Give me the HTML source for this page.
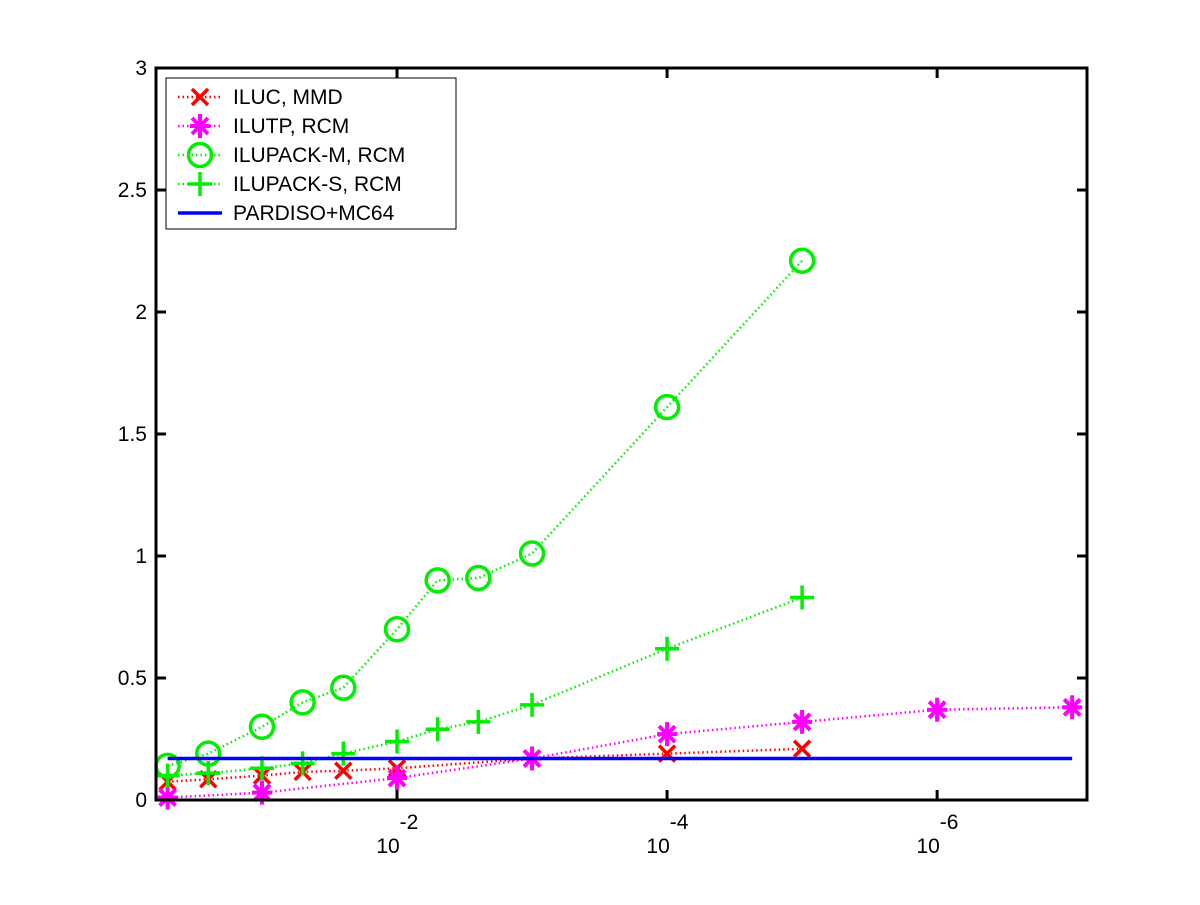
<!DOCTYPE html>
<html><head><meta charset="utf-8"><style>
html,body{margin:0;padding:0;background:#fff}
svg text{font-family:"Liberation Sans",sans-serif;font-size:21px;fill:#000}
</style></head><body>
<svg id="chart" width="1200" height="900" xmlns="http://www.w3.org/2000/svg">
<rect x="0" y="0" width="1200" height="900" fill="#fff"/>
<g id="plot"></g>
</svg>
<script>
const xValues = [0.5,0.25,0.1,0.05,0.025,0.01,0.005,0.0025,0.001,1e-4,1e-5,1e-6,1e-7];
const ilucX = [0.5,0.25,0.1,0.05,0.025,0.01,0.001,1e-4,1e-5];
const ilucY = [0.075,0.085,0.10,0.115,0.12,0.13,0.17,0.19,0.21];
const ilutpX = [0.5,0.1,0.01,0.001,1e-4,1e-5,1e-6,1e-7];
const ilutpY = [0.01,0.03,0.09,0.17,0.27,0.32,0.37,0.38];
const ilupackMX = [0.5,0.25,0.1,0.05,0.025,0.01,0.005,0.0025,0.001,1e-4,1e-5];
const ilupackMY = [0.14,0.19,0.30,0.40,0.46,0.70,0.90,0.91,1.01,1.61,2.21];
const ilupackSX = [0.5,0.25,0.1,0.05,0.025,0.01,0.005,0.0025,0.001,1e-4,1e-5];
const ilupackSY = [0.10,0.11,0.13,0.15,0.19,0.24,0.29,0.32,0.39,0.62,0.83];
const pardisoX = [0.5,1e-7];
const pardisoY = [0.17,0.17];
const yTicks = [0,0.5,1,1.5,2,2.5,3];
const yTickLabels = ["0","0.5","1","1.5","2","2.5","3"];
const xTicks = [1e-2,1e-4,1e-6];
const xTickExps = ["-2","-4","-6"];

const L=156,R=1087,T=68,B=800;
const eMin=-0.215,eMax=-7.11;
function sx(v){const e=Math.log10(v);return L+(e-eMin)/(eMax-eMin)*(R-L);}
function sy(v){return B-(v/3)*(B-T);}
const NS="http://www.w3.org/2000/svg";
const g=document.getElementById('plot');
function mk(tag,attrs,parent){const el=document.createElementNS(NS,tag);for(const k in attrs)el.setAttribute(k,attrs[k]);(parent||g).appendChild(el);return el;}

function marker(type,x,y,color,parent){
  const grp=mk('g',{},parent);
  
  
  const s=10,w=3.5;
  if(type==='x'){mk('path',{d:`M${x-8} ${y-8}L${x+8} ${y+8}M${x-8} ${y+8}L${x+8} ${y-8}`,stroke:color,'stroke-width':w,fill:'none'},grp);}
  else if(type==='star'){mk('path',{d:`M${x-s} ${y}L${x+s} ${y}M${x} ${y-s-2}L${x} ${y+s+2}M${x-8} ${y-8}L${x+8} ${y+8}M${x-8} ${y+8}L${x+8} ${y-8}`,stroke:color,'stroke-width':w+0.5,fill:'none'},grp);}
  else if(type==='circle'){mk('circle',{cx:x,cy:y,r:11.5,stroke:color,'stroke-width':w,fill:'none'},grp);}
  else if(type==='plus'){mk('path',{d:`M${x-12} ${y}L${x+12} ${y}M${x} ${y-12}L${x} ${y+12}`,stroke:color,'stroke-width':w,fill:'none'},grp);}
}
function series(name,xs,ys,color,type,dotted){
  const grp=mk('g',{});
  
  
  const pts=xs.map((v,i)=>[sx(v),sy(ys[i])]);
  const ln=mk('polyline',{points:pts.map(p=>p.join(',')).join(' '),fill:'none',stroke:color,'stroke-width':dotted?2.5:3.5,'stroke-dasharray':dotted?'1.5,3':'none'},grp);
  
  
  if(type) pts.forEach(p=>marker(type,p[0],p[1],color,grp));
}
series('iluc-mmd-series',ilucX,ilucY,'#ff0000','x',true);
series('ilutp-rcm-series',ilutpX,ilutpY,'#ff00ff','star',true);
series('ilupack-m-series',ilupackMX,ilupackMY,'#00ee00','circle',true);
series('ilupack-s-series',ilupackSX,ilupackSY,'#00ee00','plus',true);
series('pardiso-series',pardisoX,pardisoY,'#0000ff',null,false);

const box=mk('rect',{x:L,y:T,width:R-L,height:B-T,fill:'none',stroke:'#000','stroke-width':3});


yTicks.forEach((v,i)=>{
  const y=sy(v);
  const t=mk('path',{d:`M${L} ${y}L${L+10} ${y}M${R} ${y}L${R-10} ${y}`,stroke:'#000','stroke-width':3});
  
  
  const tx=mk('text',{x:147,y:y+7,'text-anchor':'end'});
  tx.textContent=yTickLabels[i];
  
  
});
xTicks.forEach((v,i)=>{
  const x=sx(v);
  const t=mk('path',{d:`M${x} ${B}L${x} ${B-10}M${x} ${T}L${x} ${T+10}`,stroke:'#000','stroke-width':3});
  
  
  const tx=mk('text',{x:x-9,y:853,'text-anchor':'middle'});
  tx.textContent='10';
  
  
  const ex=mk('text',{x:x+12,y:829,'text-anchor':'middle'});
  ex.textContent=xTickExps[i];
  
  
});

const leg=mk('g',{});


mk('rect',{x:166,y:78,width:290,height:151,fill:'#fff',stroke:'#000','stroke-width':1},leg);
const legItems=[['ILUC, MMD','#ff0000','x',true],['ILUTP, RCM','#ff00ff','star',true],['ILUPACK-M, RCM','#00ee00','circle',true],['ILUPACK-S, RCM','#00ee00','plus',true],['PARDISO+MC64','#0000ff',null,false]];
legItems.forEach((it,i)=>{
  const y=97+i*29;
  const e=mk('g',{},leg);
  
  
  mk('line',{x1:178,y1:y,x2:222,y2:y,stroke:it[1],'stroke-width':it[3]?2.5:3.5,'stroke-dasharray':it[3]?'1.5,3':'none'},e);
  if(it[2]) marker(it[2],200,y,it[1],e);
  const t=mk('text',{x:233,y:y+7},e);
  t.textContent=it[0];
});
</script>
</body></html>
